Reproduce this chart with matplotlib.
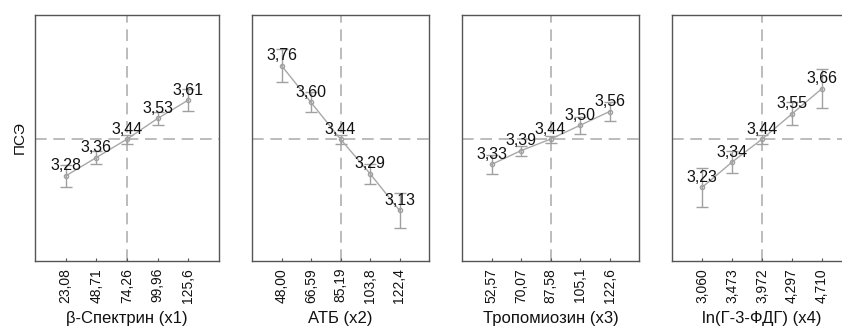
import matplotlib
matplotlib.use("Agg")
import matplotlib.pyplot as plt
import numpy as np

plt.rcParams['font.family'] = ['Liberation Sans', 'DejaVu Sans']

# данные
y_center = 3.44
y_label = 'ПСЭ'

x_titles = ['β-Спектрин (x1)', 'АТБ (x2)', 'Тропомиозин (x3)', 'ln(Г-3-ФДГ) (x4)']

x1_ticks = ['23,08', '48,71', '74,26', '99,96', '125,6']
x2_ticks = ['48,00', '66,59', '85,19', '103,8', '122,4']
x3_ticks = ['52,57', '70,07', '87,58', '105,1', '122,6']
x4_ticks = ['3,060', '3,473', '3,972', '4,297', '4,710']

x1_vals = [3.28, 3.36, 3.44, 3.53, 3.61]
x2_vals = [3.76, 3.60, 3.44, 3.29, 3.13]
x3_vals = [3.33, 3.39, 3.44, 3.50, 3.56]
x4_vals = [3.23, 3.34, 3.44, 3.55, 3.66]

x1_err = [0.048, 0.030, 0.020, 0.030, 0.048]
x2_err = [0.072, 0.043, 0.020, 0.043, 0.075]
x3_err = [0.040, 0.022, 0.015, 0.036, 0.043]
x4_err = [0.085, 0.048, 0.020, 0.050, 0.083]

panels = [
    (x1_ticks, x1_vals, x1_err),
    (x2_ticks, x2_vals, x2_err),
    (x3_ticks, x3_vals, x3_err),
    (x4_ticks, x4_vals, x4_err),
]

W, H = 842, 330
fig = plt.figure(figsize=(W / 100, H / 100), dpi=100)

# положение панелей в пикселях (лево, право)
px_lr = [(35, 219), (252, 429), (462, 639), (672, 852)]
top_px, bot_px = 15, 261

for i, (ticks, vals, err) in enumerate(panels):
    l, r = px_lr[i]
    ax = fig.add_axes([l / W, (H - bot_px) / H, (r - l) / W, (bot_px - top_px) / H])
    x = np.arange(len(ticks))

    ax.axhline(y_center, color='#b0b0b0', lw=1.2, ls=(0, (7, 4)), zorder=1)
    ax.axvline(x[len(x) // 2], color='#b0b0b0', lw=1.2, ls=(0, (7, 4)), zorder=1)

    ax.errorbar(x, vals, yerr=err, color='#a8a8a8', ecolor='#a0a0a0', lw=1.0,
                elinewidth=1.0, capsize=4, capthick=1.0, marker='o',
                markersize=3, markerfacecolor='none', markeredgecolor='#a0a0a0',
                zorder=2)

    for xi, v in zip(x, vals):
        ax.annotate(f'{v:.2f}'.replace('.', ','), (xi, v), xytext=(0, 4),
                    textcoords='offset points', ha='center', va='baseline',
                    fontsize=11.5, color='#111111', zorder=3)

    ax.set_xlim(-1, 5)
    ax.set_ylim(2.91, 3.98)
    ax.set_xticks(x)
    ax.set_xticklabels(ticks, rotation=90, fontsize=10, color='#111111')
    ax.set_yticks([])
    ax.tick_params(axis='x', direction='in', length=2.5, color='#555555', pad=5)
    ax.set_xlabel(x_titles[i], fontsize=12, color='#111111', labelpad=6)
    for s in ax.spines.values():
        s.set_color('#555555')
        s.set_linewidth(1.0)
    if i == 0:
        ax.set_ylabel(y_label, fontsize=11, color='#111111', labelpad=6)

fig.savefig('out.png', dpi=100)
